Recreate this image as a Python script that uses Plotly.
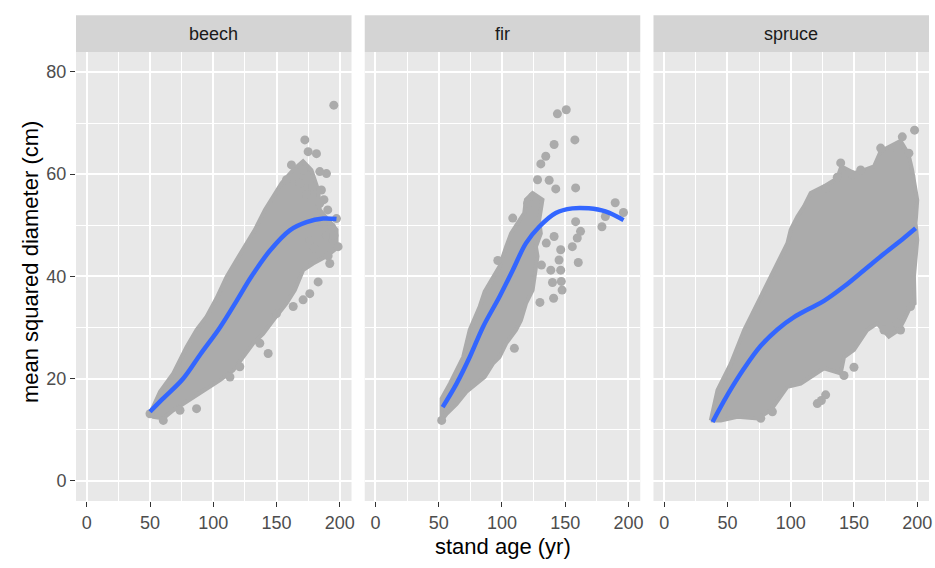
import plotly.graph_objects as go
from plotly.subplots import make_subplots

species = ["beech", "fir", "spruce"]

# outline of the dense part of each point cloud (stand age, diameter)
beech_hull_x = [50, 57.9, 68.4, 78.9, 86.8, 94.7, 102.6, 110.5, 118.4, 125, 132.9, 140.8, 147.4, 154, 163.2, 171,
                177.6, 182.9, 184.2, 192.1, 197.4, 197.4, 189.5, 178.9, 171, 164.5, 157.9, 147.4, 139.5, 131.6,
                123.7, 115.8, 105.3, 94.7, 81.6, 68.4, 60.5, 52.6]
beech_hull_y = [13.1, 17.4, 21.0, 26.2, 29.5, 32.1, 35.7, 39.9, 43.2, 45.8, 49.1, 53, 55.6, 58.2, 60.8, 62.5,
                60.8, 56.9, 53, 50.7, 49.1, 45.5, 43.9, 42.5, 41.2, 37.3, 34.7, 31.4, 28.8, 26.9,
                24.2, 21.6, 19.7, 18, 16.1, 13.8, 12.2, 12.5]

fir_hull_x = [52.3, 52.3, 58.8, 69.3, 74.5, 82.4, 86.3, 92.8, 98, 103.3, 107.2, 112.4, 117.6, 118.9, 124.2, 132,
              129.4, 130.7, 126.8, 128.1, 125.5, 124.2, 119, 115, 111.1, 103.3, 98, 92.8, 86.3, 79.7, 71.9, 64, 56.2]
fir_hull_y = [11.8, 16.1, 19, 24.2, 29.5, 34.1, 37, 39.6, 41.9, 45.8, 48.4, 50.4, 52.4, 55, 56.3, 55,
              51, 48.4, 45.8, 43.9, 39.9, 37.3, 34.7, 31.4, 29.5, 26.9, 24.2, 22.9, 20.3, 19, 17.4, 15, 13.1]

spruce_hull_x = [36.8, 42.1, 52.6, 63.2, 73.7, 84.2, 92.1, 97.4, 100, 105.3, 110.5, 115.8, 126.3, 136.8, 140, 150,
                 157.9, 165.8, 171.1, 186.8, 193, 196, 200, 198.7, 200, 197.4, 197.9, 194.7, 189.5, 185.5, 177.6,
                 168.4, 160.5, 150, 142.1, 139.5, 126.3, 115.8, 107.9, 97.4, 84.2, 73.7, 57.9, 44.7]
spruce_hull_y = [11.8, 17.7, 22.9, 29.5, 34.7, 39.9, 43.9, 46.5, 49.1, 51.7, 53.7, 56.3, 57.6, 59.2, 61.5, 60.2,
                 60.8, 61.5, 64.5, 66.5, 64, 60.8, 54.9, 50.4, 47.1, 40, 34.7, 34.1, 31.4, 29.5, 28.2,
                 30.8, 29.5, 25.6, 24.2, 21, 22, 20.3, 19, 18.4, 13.8, 12.2, 12.5, 11.8]

# single points around the clouds
beech_x = [195.3, 172.4, 175, 181.6, 189.5, 161.8, 171, 184.2, 185.5, 184.2, 193.4, 197.4, 198.7, 192.1, 182.9,
           176.3, 171, 163.2, 150, 143.4, 136.8, 121, 113.2, 86.8, 73.7, 60.5, 50, 173.7, 178.9, 168.4, 157.9,
           190.8, 194.7, 189.5, 187.5, 190.5, 186, 195.5, 180, 176.5]
beech_y = [73.5, 66.7, 64.4, 64, 60.1, 61.8, 60.8, 60.5, 56.9, 54.3, 49.7, 51.3, 45.8, 42.5, 38.9,
           36.6, 35.4, 34.1, 32.7, 24.9, 26.9, 22.3, 20.3, 14.1, 13.8, 11.8, 13.1, 56, 57.6, 58.2, 58.9,
           44, 47, 48, 55, 53, 50.5, 48, 45.5, 47]

fir_x = [143.8, 150.8, 157.6, 141.2, 134.6, 130.7, 158.2, 128.1, 137.3, 142.5, 189.5, 196, 181.7, 179, 162.1,
         158.2, 159.5, 155.6, 146.4, 145.1, 160.3, 138.6, 146.4, 139.9, 146.9, 147.5, 140.8, 130, 131.2, 135,
         141.2, 109.8, 96.7, 108.5, 124.2, 120.3, 52.3]
fir_y = [71.8, 72.6, 66.7, 65.8, 63.5, 62, 57.3, 58.9, 58.8, 57.1, 54.4, 52.5, 51.7, 49.7, 48.8,
         50.7, 47.5, 45.8, 45.2, 43.2, 42.7, 41.2, 41.2, 38.8, 39, 37.3, 35.7, 34.9, 42.2, 46.5,
         47.8, 25.9, 43.1, 51.4, 55.6, 54.3, 11.8]

spruce_x = [197.9, 188.2, 171.1, 139.5, 136.8, 127.6, 148.7, 155.3, 184.2, 193.4, 121, 127.6, 124.2, 142.1, 150,
            85.5, 76.3, 186.8, 194.7, 184.2, 173.7]
spruce_y = [68.6, 67.3, 65.1, 62.2, 59.4, 57.2, 59.9, 60.8, 65.1, 64.1, 15.1, 16.8, 15.7, 20.6, 22.2,
            13.5, 12.2, 29.5, 34.1, 30.8, 29.5]

# smoothed fit per species
beech_fit_x = [50, 60, 76.3, 90, 105.3, 118, 130.3, 144.7, 160.5, 173.7, 186.8, 197.4]
beech_fit_y = [13.5, 16, 20, 24.8, 30, 35, 40, 45, 49, 50.6, 51.3, 51.2]
fir_fit_x = [53.1, 64.1, 74.5, 85, 98, 108.5, 119, 129.4, 142.5, 155.6, 168.6, 181.7, 196.1]
fir_fit_y = [14.4, 19, 24.2, 30.1, 36, 41.2, 46.5, 49.7, 52.4, 53.3, 53.3, 52.7, 51]
spruce_fit_x = [38.2, 50, 63.2, 76.3, 89.5, 102.6, 115.8, 126.3, 142.1, 157.9, 173.7, 189.5, 198.7]
spruce_fit_y = [11.5, 16.8, 22, 26.4, 29.6, 32, 33.8, 35.2, 38, 41.2, 44.4, 47.5, 49.4]

x_ticks = [0, 50, 100, 150, 200]
y_ticks = [0, 20, 40, 60, 80]

data = {
    "beech": (beech_hull_x, beech_hull_y, beech_x, beech_y, beech_fit_x, beech_fit_y),
    "fir": (fir_hull_x, fir_hull_y, fir_x, fir_y, fir_fit_x, fir_fit_y),
    "spruce": (spruce_hull_x, spruce_hull_y, spruce_x, spruce_y, spruce_fit_x, spruce_fit_y),
}

grey = "#ABABAB"
font = "Liberation Sans, Arial, sans-serif"

fig = make_subplots(rows=1, cols=3, shared_yaxes=True, horizontal_spacing=0.0155)

for i, sp in enumerate(species, start=1):
    hx, hy, px, py, fx, fy = data[sp]
    fig.add_trace(go.Scatter(x=hx + hx[:1], y=hy + hy[:1], mode="lines", fill="toself",
                             fillcolor=grey, line=dict(color=grey, width=4), hoverinfo="skip"), row=1, col=i)
    fig.add_trace(go.Scatter(x=px, y=py, mode="markers",
                             marker=dict(color=grey, size=9, line=dict(width=0))), row=1, col=i)
    fig.add_trace(go.Scatter(x=fx, y=fy, mode="lines",
                             line=dict(color="#3366FF", width=4.5, shape="spline")), row=1, col=i)

    xref = "x domain" if i == 1 else f"x{i} domain"
    fig.add_shape(type="rect", xref=xref, yref="paper", x0=0, x1=1, y0=1, y1=1.0817,
                  fillcolor="#D4D4D4", line=dict(width=0))
    fig.add_annotation(text=sp, xref=xref, yref="paper", x=0.5, y=1.0408, showarrow=False,
                       xanchor="center", yanchor="middle", font=dict(size=18, color="#1A1A1A", family=font))

    fig.update_xaxes(range=[-8.5, 209.3], tickvals=x_ticks, ticks="outside", ticklen=5, tickwidth=1.3,
                     tickcolor="#333333", showgrid=True, gridcolor="white", gridwidth=1.8, zeroline=False,
                     automargin=False,
                     minor=dict(dtick=25, tick0=0, showgrid=True, gridcolor="white", gridwidth=0.9),
                     tickfont=dict(size=18, color="#4D4D4D", family=font), row=1, col=i)
    fig.update_yaxes(range=[-3.97, 83.9], tickvals=y_ticks, showgrid=True, gridcolor="white", gridwidth=1.8,
                     zeroline=False, automargin=False,
                     minor=dict(dtick=10, tick0=0, showgrid=True, gridcolor="white", gridwidth=0.9),
                     row=1, col=i)

fig.update_yaxes(ticks="outside", ticklen=5, tickwidth=1.3, tickcolor="#333333",
                 tickfont=dict(size=18, color="#4D4D4D", family=font), row=1, col=1)

fig.add_annotation(text="stand age (yr)", xref="paper", yref="paper", x=0.5, y=-0.1024, showarrow=False,
                   xanchor="center", yanchor="middle", font=dict(size=22, color="black", family=font))
fig.add_annotation(text="mean squared diameter (cm)", xref="paper", yref="paper", x=-0.054, y=0.532,
                   textangle=-90, showarrow=False, xanchor="center", yanchor="middle",
                   font=dict(size=22, color="black", family=font))

fig.update_layout(width=935, height=568, margin=dict(l=76, r=6, t=52, b=67),
                  paper_bgcolor="white", plot_bgcolor="#E8E8E8", showlegend=False, hovermode=False)

# drop the default page margin so the figure sits at the top-left corner
fig.write_html("out.html", config={"displayModeBar": False},
               post_script="document.body.style.margin='0px';")
